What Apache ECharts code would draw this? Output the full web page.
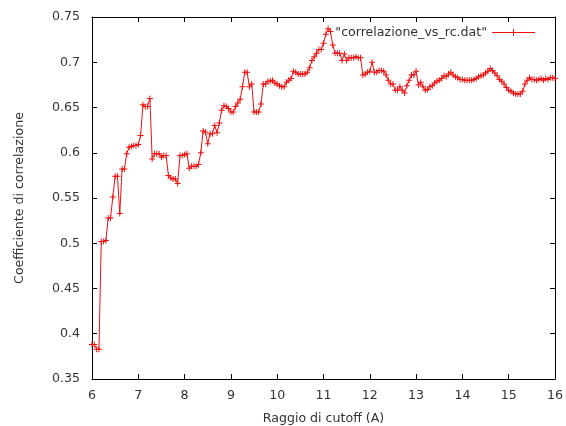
<!DOCTYPE html>
<html>
<head>
<meta charset="utf-8">
<title>Coefficiente di correlazione vs raggio di cutoff</title>
<script src="https://cdn.jsdelivr.net/npm/echarts@6/dist/echarts.min.js"></script>
<style>
  html, body { margin: 0; padding: 0; background: #fff; }
  #chart { width: 566px; height: 426px; }
</style>
</head>
<body>
<div id="chart"></div>
<script>
// Cutoff radius (A)
var raggio = [
  6, 6.05, 6.1, 6.15, 6.2, 6.25, 6.3, 6.35, 6.4, 6.45, 6.5, 6.55, 6.6, 6.65, 6.7, 6.75, 6.8, 6.85, 6.9, 6.95,
  7, 7.05, 7.1, 7.15, 7.2, 7.25, 7.3, 7.35, 7.4, 7.45, 7.5, 7.55, 7.6, 7.65, 7.7, 7.75, 7.8, 7.85, 7.9, 7.95,
  8, 8.05, 8.1, 8.15, 8.2, 8.25, 8.3, 8.35, 8.4, 8.45, 8.5, 8.55, 8.6, 8.65, 8.7, 8.75, 8.8, 8.85, 8.9, 8.95,
  9, 9.05, 9.1, 9.15, 9.2, 9.25, 9.3, 9.35, 9.4, 9.45, 9.5, 9.55, 9.6, 9.65, 9.7, 9.75, 9.8, 9.85, 9.9, 9.95,
  10, 10.05, 10.1, 10.15, 10.2, 10.25, 10.3, 10.35, 10.4, 10.45, 10.5, 10.55, 10.6, 10.65, 10.7, 10.75, 10.8, 10.85, 10.9, 10.95,
  11, 11.05, 11.1, 11.15, 11.2, 11.25, 11.3, 11.35, 11.4, 11.45, 11.5, 11.55, 11.6, 11.65, 11.7, 11.75, 11.8, 11.85, 11.9, 11.95,
  12, 12.05, 12.1, 12.15, 12.2, 12.25, 12.3, 12.35, 12.4, 12.45, 12.5, 12.55, 12.6, 12.65, 12.7, 12.75, 12.8, 12.85, 12.9, 12.95,
  13, 13.05, 13.1, 13.15, 13.2, 13.25, 13.3, 13.35, 13.4, 13.45, 13.5, 13.55, 13.6, 13.65, 13.7, 13.75, 13.8, 13.85, 13.9, 13.95,
  14, 14.05, 14.1, 14.15, 14.2, 14.25, 14.3, 14.35, 14.4, 14.45, 14.5, 14.55, 14.6, 14.65, 14.7, 14.75, 14.8, 14.85, 14.9, 14.95,
  15, 15.05, 15.1, 15.15, 15.2, 15.25, 15.3, 15.35, 15.4, 15.45, 15.5, 15.55, 15.6, 15.65, 15.7, 15.75, 15.8, 15.85, 15.9, 15.95,
  16
];

// Correlation coefficient at each cutoff radius
var correlazione = [
  0.388, 0.388, 0.383, 0.383, 0.502, 0.502, 0.503, 0.528, 0.528, 0.551, 0.574, 0.574, 0.533, 0.582, 0.582, 0.599, 0.606, 0.607, 0.608, 0.608,
  0.609, 0.619, 0.653, 0.651, 0.651, 0.660, 0.593, 0.599, 0.599, 0.599, 0.595, 0.597, 0.597, 0.575, 0.572, 0.571, 0.571, 0.566, 0.597, 0.597,
  0.598, 0.599, 0.583, 0.585, 0.585, 0.585, 0.587, 0.600, 0.624, 0.623, 0.610, 0.621, 0.621, 0.630, 0.622, 0.633, 0.647, 0.652, 0.651, 0.649,
  0.645, 0.645, 0.651, 0.655, 0.659, 0.673, 0.689, 0.689, 0.673, 0.676, 0.645, 0.645, 0.645, 0.654, 0.676, 0.676, 0.679, 0.679, 0.680, 0.677,
  0.676, 0.674, 0.673, 0.673, 0.678, 0.680, 0.682, 0.690, 0.689, 0.687, 0.687, 0.687, 0.687, 0.689, 0.694, 0.702, 0.706, 0.710, 0.714, 0.714,
  0.721, 0.731, 0.737, 0.734, 0.719, 0.710, 0.710, 0.710, 0.702, 0.709, 0.702, 0.705, 0.705, 0.705, 0.706, 0.705, 0.705, 0.686, 0.687, 0.689,
  0.690, 0.700, 0.689, 0.689, 0.691, 0.691, 0.690, 0.686, 0.680, 0.676, 0.676, 0.669, 0.669, 0.673, 0.669, 0.666, 0.674, 0.680, 0.686, 0.686,
  0.690, 0.675, 0.678, 0.673, 0.669, 0.670, 0.673, 0.674, 0.677, 0.679, 0.680, 0.682, 0.685, 0.684, 0.687, 0.689, 0.686, 0.684, 0.683, 0.681,
  0.681, 0.680, 0.680, 0.680, 0.680, 0.681, 0.682, 0.684, 0.685, 0.686, 0.688, 0.690, 0.693, 0.691, 0.688, 0.685, 0.681, 0.679, 0.676, 0.672,
  0.669, 0.668, 0.666, 0.665, 0.665, 0.665, 0.668, 0.676, 0.680, 0.683, 0.681, 0.681, 0.680, 0.681, 0.682, 0.680, 0.682, 0.681, 0.683, 0.683,
  0.682
];

var nomeSerie = '"correlazione_vs_rc.dat"';
var titoloX = 'Raggio di cutoff (A)';
var titoloY = 'Coefficiente di correlazione';

var punti = raggio.map(function (r, i) { return [r, correlazione[i]]; });

var FONT = '"DejaVu Sans", sans-serif';
var FS = 12.6;
var TEXT = '#333';
var plus = 'path://M0,2.5H6V3.5H0Z M2.5,0H3.5V6H2.5Z';
var legendIcon = 'path://M0,3L43,3L43,4L0,4Z M21,0L22,0L22,7L21,7Z';

function axisBase(extra) {
  var a = {
    type: 'value',
    axisLine: { show: true, onZero: false, lineStyle: { color: '#000', width: 1 } },
    axisTick: { show: true, inside: true, length: 5, lineStyle: { color: '#000', width: 1 } },
    splitLine: { show: false },
    axisLabel: { show: false }
  };
  for (var k in extra) a[k] = extra[k];
  return a;
}

var chart = echarts.init(document.getElementById('chart'), null, { renderer: 'canvas' });

chart.setOption({
  backgroundColor: '#fff',
  animation: false,
  grid: { left: 92, right: 11, top: 17, bottom: 47, containLabel: false, outerBoundsMode: 'none' },
  legend: {
    show: true,
    data: [nomeSerie],
    right: 26,
    top: 21,
    align: 'right',
    icon: legendIcon,
    itemWidth: 43,
    itemHeight: 7,
    textStyle: { fontFamily: FONT, fontSize: FS, color: TEXT }
  },
  xAxis: [
    axisBase({
      position: 'bottom', min: 6, max: 16, interval: 1,
      name: titoloX, nameLocation: 'middle', nameGap: 33,
      nameTextStyle: { fontFamily: FONT, fontSize: FS, color: TEXT },
      axisLabel: { show: true, margin: 10, fontFamily: FONT, fontSize: FS, color: TEXT }
    }),
    axisBase({ position: 'top', min: 6, max: 16, interval: 1 })
  ],
  yAxis: [
    axisBase({
      position: 'left', min: 0.35, max: 0.75, interval: 0.05,
      name: titoloY, nameLocation: 'middle', nameGap: 66,
      nameTextStyle: { fontFamily: FONT, fontSize: FS, color: TEXT },
      axisLabel: {
        show: true, margin: 12, fontFamily: FONT, fontSize: FS, color: TEXT,
        formatter: function (v) { return String(+v.toFixed(2)); }
      }
    }),
    axisBase({ position: 'right', min: 0.35, max: 0.75, interval: 0.05 })
  ],
  series: [{
    name: nomeSerie,
    type: 'line',
    xAxisIndex: 0,
    yAxisIndex: 0,
    data: punti,
    color: '#ee1111',
    lineStyle: { color: '#ee1111', width: 1 },
    itemStyle: { color: '#ee1111' },
    symbol: plus,
    symbolSize: 6,
    showSymbol: true,
    showAllSymbol: true,
    clip: false
  }]
});
</script>
</body>
</html>
